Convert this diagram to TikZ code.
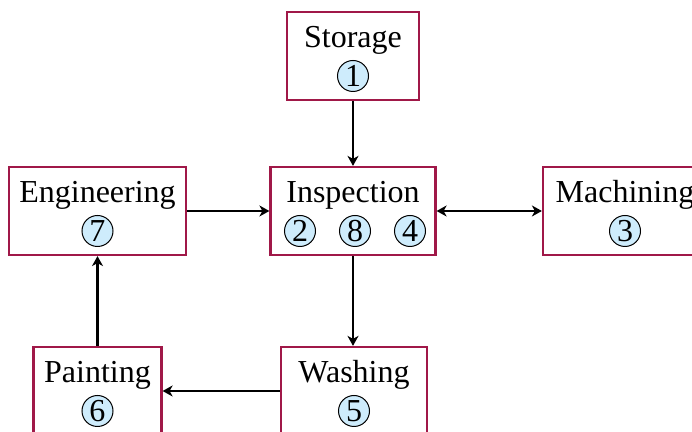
\documentclass[tikz,border=0pt]{standalone}
\usepackage{fontspec}
\setmainfont{Liberation Serif}
\usetikzlibrary{arrows.meta}
\definecolor{boxred}{RGB}{160,24,72}
\definecolor{numblue}{RGB}{206,236,252}

\begin{document}
\begin{tikzpicture}[x=0.5pt,y=-0.5pt,
    dept/.style={draw=boxred,line width=1.1pt,minimum width=#1,minimum height=44pt,inner sep=0pt},
    title/.style={anchor=base,font=\fontsize{16}{19}\selectfont},
    num/.style={circle,draw,fill=numblue,line width=0.5pt,minimum size=15.5pt,inner sep=0pt,font=\fontsize{16}{19}\selectfont},
    flow/.style={line width=1.1pt,-{Stealth[length=5pt,width=5.5pt,inset=1.5pt]}},
    twoway/.style={line width=1.1pt,{Stealth[length=5pt,width=5.5pt,inset=1.5pt]}-{Stealth[length=5pt,width=5.5pt,inset=1.5pt]}}]
    %frame
    \useasboundingbox (0,0) rectangle (692,432);
    \clip (0,0) rectangle (692,432);
    %departments
    \node[dept=66pt] (storage) at (353,56) {};
    \node[dept=82.5pt] (inspection) at (353,211) {};
    \node[dept=82pt] (machining) at (625,211) {};
    \node[dept=88.5pt] (engineering) at (97.5,211) {};
    \node[dept=64pt] (painting) at (97.5,391) {};
    \node[dept=73pt] (washing) at (354,391) {};
    %titles
    \node[title] (storage-t) at (353,48) {Storage};
    \node[title] (inspection-t) at (353,203) {Inspection};
    \node[title] (machining-t) at (625,203) {Machining};
    \node[title] (engineering-t) at (97.5,203) {Engineering};
    \node[title] (painting-t) at (97.5,383) {Painting};
    \node[title] (washing-t) at (354,383) {Washing};
    %step numbers
    \node[num] (n1) at (353,76) {1};
    \node[num] (n2) at (300,231) {2};
    \node[num] (n8) at (355,231) {8};
    \node[num] (n4) at (410,231) {4};
    \node[num] (n3) at (625,231) {3};
    \node[num] (n7) at (97.5,231) {7};
    \node[num] (n6) at (97.5,411) {6};
    \node[num] (n5) at (354,411) {5};
    %flows
    \draw[flow] (storage) -- (inspection);
    \draw[flow] (engineering) -- (inspection);
    \draw[twoway] (inspection) -- (machining);
    \draw[flow] (inspection.south) -- (inspection.south |- washing.north);
    \draw[flow] (washing) -- (painting);
    \draw[flow] (painting) -- (engineering);
\end{tikzpicture}
\end{document}
